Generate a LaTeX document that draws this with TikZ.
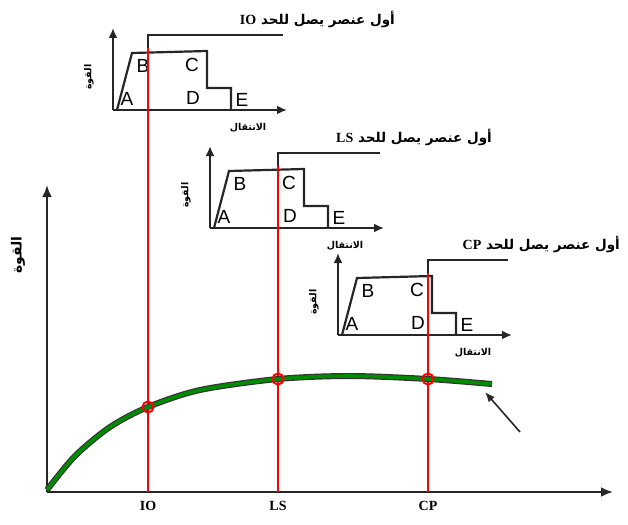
\documentclass[tikz,border=0pt]{standalone}
\usepackage{fontspec}
\setmainfont{Liberation Serif}
\setsansfont{Liberation Sans}
\newfontfamily\arabicfont[Script=Arabic]{DejaVu Sans}
\TeXXeTstate=1
\usetikzlibrary{arrows.meta}

\tikzset{
  axisline/.style={line width=2.6pt, black!85, -{Latex[length=12pt,width=10pt]}},
  hinge/.style={line width=2.2pt, black!85},
  limitline/.style={line width=1.6pt, red},
  pushcurve/.style={line width=1.2pt, black!80, double=green!55!black, double distance=3.6pt},
  hitmark/.style={circle, draw=red, line width=2pt, minimum size=11pt, inner sep=0pt},
  pointer/.style={line width=1.6pt, black!85, -{Latex[length=10pt,width=8pt]}},
  ptlabel/.style={font=\sffamily\fontsize{19}{19}\selectfont, inner sep=0pt},
  artext/.style={font=\arabicfont\bfseries\fontsize{13.5}{15}\selectfont, inner sep=0pt},
  smalltext/.style={font=\arabicfont\bfseries\fontsize{9.5}{11}\selectfont, inner sep=0pt},
  lvltext/.style={font=\bfseries\fontsize{14}{14}\selectfont, inner sep=0pt}
}

\begin{document}
\begin{tikzpicture}[x=1pt, y=-1pt]
  \useasboundingbox (0,0) rectangle (628,524);
  % main axes
  \coordinate (O) at (47,492);
  \coordinate (ytop) at (47,185);
  \coordinate (xend) at (613,492);
  \draw[axisline] (O) -- (ytop);
  \draw[axisline] (O) -- (xend);
  \node[artext, font=\arabicfont\bfseries\fontsize{14}{14}\selectfont, rotate=90] (force) at (18,255) {\beginR القوة\endR};

  % small force-displacement plots, one per limit
  \foreach \ox/\oy/\lvl/\cx in {113/110/IO/35, 210/228/LS/68, 338/335/CP/90} {
    \begin{scope}[shift={(\ox,\oy)}]
      \coordinate (o\lvl) at (0,0);
      \coordinate (yt\lvl) at (0,-82);
      \coordinate (xt\lvl) at (174,0);
      \coordinate (s\lvl) at (\cx,-62);
      \draw[axisline, -{Latex[length=10pt,width=9pt]}] (o\lvl) -- (yt\lvl);
      \draw[axisline, -{Latex[length=10pt,width=9pt]}] (o\lvl) -- (xt\lvl);
      \draw[hinge] (4,0) -- (19,-57) -- (94,-59) -- (94,-22) -- (118,-22) -- (118,0);
      \node[ptlabel] (A\lvl) at (14,-11) {A};
      \node[ptlabel] (B\lvl) at (30,-44) {B};
      \node[ptlabel] (C\lvl) at (79,-45) {C};
      \node[ptlabel] (D\lvl) at (80,-12) {D};
      \node[ptlabel] (E\lvl) at (129,-10) {E};
      \node[smalltext, rotate=90] (f\lvl) at (-24,-33) {\beginR القوة\endR};
      \node[smalltext] (d\lvl) at (135,18) {\beginR الانتقال\endR};
      \draw[hinge] (s\lvl) -- (\cx,-75) -- (170,-75);
      \node[artext, anchor=east] (t\lvl) at (282,-91)
        {\beginR أول عنصر يصل للحد \beginL{\rmfamily\bfseries\fontsize{14}{14}\selectfont \lvl}\endL\endR};
    \end{scope}
    \coordinate (b\lvl) at ({\ox+\cx},492);
    \draw[limitline] (b\lvl) -- (s\lvl);
    \node[lvltext, anchor=north] (l\lvl) at ([yshift=-9pt]b\lvl) {\lvl};
  }

  % pushover curve
  \coordinate (hIO) at (148,407);
  \coordinate (hLS) at (278,379);
  \coordinate (hCP) at (428,379);
  \coordinate (cend) at (492,384);
  \draw[pushcurve] plot[smooth] coordinates {(47,490) (75,456) (110,427) (hIO) (200,390) (hLS) (350,376) (hCP) (cend)};
  \foreach \lvl in {IO, LS, CP}
    \node[hitmark] (m\lvl) at (h\lvl) {};

  \coordinate (ptail) at (520,432);
  \coordinate (ptip) at (485,392);
  \draw[pointer] (ptail) -- (ptip);
\end{tikzpicture}
\end{document}
